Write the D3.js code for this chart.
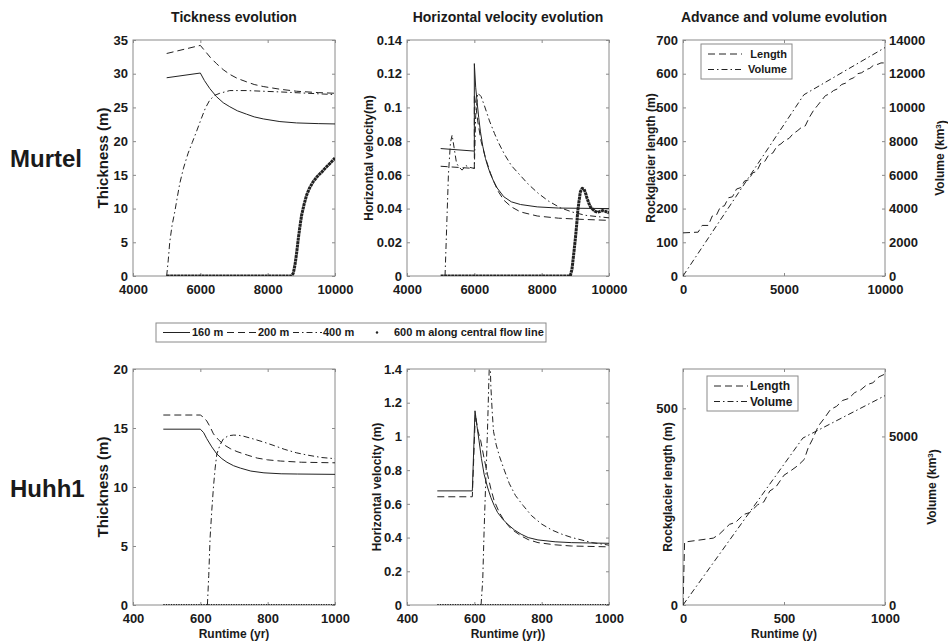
<!DOCTYPE html>
<html>
<head>
<meta charset="utf-8">
<script src="https://cdn.jsdelivr.net/npm/d3@7"></script>
<style>
  body { margin: 0; background: #fff; }
  svg text { font-family: "Liberation Sans", Arial, Helvetica, sans-serif; font-weight: bold; }
</style>
</head>
<body>
<script>
// ---------- Murtel: thickness at points along the central flow line [year, m] ----------
const murtelThick160 = [[5000,29.4],[6000,30.1],[6120,29.0],[6281,27.8],[6479,26.6],[6680,25.7],[6876,25.1],[7100,24.5],[7372,24.0],[7600,23.6],[7868,23.3],[8364,22.9],[8860,22.7],[9500,22.6],[10000,22.55]];
const murtelThick200 = [[5000,33.0],[6000,34.2],[6150,33.3],[6300,32.4],[6479,31.5],[6680,30.6],[6876,29.9],[7100,29.3],[7372,28.8],[7600,28.4],[7868,28.1],[8364,27.7],[8860,27.4],[9500,27.2],[10000,27.1]];
const murtelThick400 = [[5000,0],[5050,2.5],[5091,5.0],[5160,7.5],[5240,9.5],[5320,11.8],[5388,13.7],[5500,16.0],[5636,18.2],[5760,19.8],[5884,21.4],[6033,23.4],[6150,24.9],[6281,26.1],[6430,26.8],[6578,27.1],[6876,27.5],[7370,27.5],[8364,27.3],[9200,27.1],[10000,26.9]];
const murtelThick600 = [[5000,0],[8700,0],[8760,0.4],[8810,1.6],[8860,3.4],[8909,5.5],[8960,7.4],[9008,9.0],[9080,10.6],[9157,12.0],[9250,13.1],[9355,14.0],[9480,14.8],[9603,15.4],[9730,16.1],[9851,16.7],[10000,17.5]];

// ---------- Murtel: horizontal velocity [year, m] ----------
const murtelVel160 = [[5000,0.0756],[6000,0.0741],[6000,0.126],[6040,0.112],[6083,0.103],[6130,0.094],[6182,0.0855],[6250,0.077],[6331,0.0697],[6400,0.065],[6479,0.0605],[6578,0.0560],[6678,0.0522],[6876,0.0470],[7100,0.0440],[7372,0.0424],[7868,0.0410],[8500,0.0403],[10000,0.0400]];
const murtelVel200 = [[5000,0.0651],[6000,0.0638],[6000,0.108],[6050,0.100],[6100,0.092],[6200,0.080],[6331,0.0700],[6479,0.0610],[6600,0.0550],[6700,0.0505],[6876,0.0450],[7100,0.0410],[7372,0.0380],[7868,0.0356],[8500,0.0343],[9200,0.0336],[10000,0.0330]];
const murtelVel400 = [[5130,0],[5180,0.03],[5230,0.06],[5290,0.079],[5340,0.0836],[5400,0.076],[5470,0.067],[5537,0.0648],[5636,0.0628],[5750,0.0655],[5850,0.0645],[6000,0.0638],[6040,0.095],[6100,0.1085],[6200,0.1065],[6300,0.101],[6450,0.092],[6600,0.0845],[6720,0.079],[6900,0.072],[7100,0.0655],[7350,0.060],[7600,0.0545],[7900,0.049],[8200,0.0445],[8550,0.0405],[8900,0.038],[9300,0.036],[10000,0.0345]];
const murtelVel600 = [[5000,0],[8850,0],[8900,0.004],[8959,0.0143],[9000,0.022],[9038,0.030],[9070,0.038],[9107,0.044],[9150,0.050],[9206,0.052],[9260,0.0515],[9306,0.049],[9350,0.046],[9405,0.043],[9450,0.041],[9504,0.0398],[9580,0.0385],[9653,0.0378],[9720,0.0382],[9802,0.0388],[9880,0.0385],[9950,0.0378],[10000,0.0375]];

// ---------- Murtel: front advance [year, m] and volume [year, km3] ----------
const murtelLength = [[0,128],[750,130],[950,150],[1250,150],[1450,178],[1650,180],[1850,205],[2050,208],[2250,232],[2450,235],[2650,258],[2850,262],[3050,282],[3250,285],[3450,306],[3650,310],[3850,335],[4050,340],[4250,360],[4450,365],[4650,385],[4850,392],[5050,403],[5250,408],[5450,422],[5650,430],[5850,440],[6050,445],[6250,470],[6450,490],[6650,505],[6850,520],[7050,535],[7250,540],[7450,550],[7650,555],[7850,568],[8050,572],[8250,583],[8450,588],[8650,600],[8850,603],[9050,612],[9250,616],[9450,626],[9650,628],[9800,632],[10000,632]];
const murtelVolume = [[0,0],[5983,10750],[10000,13550]];

// ---------- Huhh1: thickness [year, m] ----------
const huhhThick160 = [[490,14.9],[600,14.9],[610,14.6],[619,14.1],[634,13.4],[649,12.8],[664,12.4],[679,12.1],[699,11.8],[719,11.6],[750,11.35],[789,11.2],[840,11.12],[888,11.1],[1000,11.07]];
const huhhThick200 = [[490,16.1],[600,16.1],[610,15.9],[619,15.6],[629,15.1],[639,14.5],[654,14.0],[669,13.6],[689,13.25],[709,13.0],[740,12.7],[769,12.45],[800,12.3],[838,12.2],[900,12.1],[1000,12.05]];
const huhhThick400 = [[621,0],[625,2.5],[629,5.7],[634,8.0],[639,10.0],[644,11.6],[649,12.8],[659,13.6],[669,14.1],[684,14.35],[699,14.4],[714,14.38],[729,14.3],[760,14.05],[789,13.8],[820,13.5],[849,13.2],[885,12.9],[919,12.7],[960,12.5],[1000,12.4]];
const huhhThick600 = [[490,0],[1000,0]];

// ---------- Huhh1: horizontal velocity [year, m] ----------
const huhhVel160 = [[490,0.677],[594,0.677],[602,1.152],[608,1.06],[614,0.974],[621,0.87],[629,0.776],[639,0.70],[649,0.638],[659,0.59],[669,0.549],[684,0.51],[699,0.479],[719,0.445],[739,0.420],[760,0.40],[789,0.386],[840,0.375],[888,0.370],[1000,0.366]];
const huhhVel200 = [[490,0.642],[594,0.642],[603,1.13],[611,1.03],[619,0.974],[629,0.87],[639,0.776],[649,0.69],[659,0.618],[674,0.55],[689,0.499],[710,0.45],[739,0.41],[760,0.388],[789,0.370],[840,0.357],[888,0.350],[1000,0.345]];
const huhhVel400 = [[620,0],[625,0.15],[629,0.44],[634,0.74],[639,1.03],[643,1.32],[646,1.52],[649,1.3],[653,1.15],[657,1.03],[665,0.95],[675,0.88],[689,0.8],[704,0.72],[722,0.65],[745,0.59],[770,0.53],[800,0.48],[830,0.445],[860,0.42],[890,0.40],[920,0.385],[950,0.37],[1000,0.355]];
const huhhVel600 = [[490,0],[1000,0]];

// ---------- Huhh1: front advance [year, m] and volume [year, km3] ----------
const huhhLength = [[0,0],[8,160],[150,170],[180,180],[230,205],[260,210],[300,230],[330,235],[370,255],[400,262],[430,290],[460,300],[500,330],[530,340],[570,355],[600,370],[620,400],[640,420],[670,455],[700,475],[730,497],[760,505],[790,520],[820,525],[850,540],[880,547],[910,560],[940,565],[970,580],[995,586]];
const huhhVolume = [[0,0],[593,4950],[1000,6210]];

// ---------- tick values ----------
const murtelTimeTicks = [4000, 6000, 8000, 10000];
const murtelThickTicks = [0, 5, 10, 15, 20, 25, 30, 35];
const murtelVelTicks = [0, 0.02, 0.04, 0.06, 0.08, 0.1, 0.12, 0.14];
const murtelRunTicks = [0, 5000, 10000];
const murtelLenTicks = [0, 100, 200, 300, 400, 500, 600, 700];
const murtelVolTicks = [0, 2000, 4000, 6000, 8000, 10000, 12000, 14000];
const huhhTimeTicks = [400, 600, 800, 1000];
const huhhThickTicks = [0, 5, 10, 15, 20];
const huhhVelTicks = [0, 0.2, 0.4, 0.6, 0.8, 1, 1.2, 1.4];
const huhhRunTicks = [0, 500, 1000];
const huhhLenTicks = [0, 500];
const huhhVolTicks = [0, 5000];

// legend entries shared by the thickness and velocity panels
const seriesNames = ["160 m", "200 m", "400 m", "600 m along central flow line"];

// ---------- drawing ----------
const svg = d3.select("body").append("svg").attr("width", 948).attr("height", 641);

const BOX = "#8a8a8a", INK = "#1a1a1a", LINE = "#222";
const TICK_LEN = 3;
const COLS = [133, 407, 683], ROWS = [40, 369], PW = 202, PH = 236;

const dashes = { solid: null, dashed: "7,4", dashdot: "6,3,1.5,3" };
const fmt = v => String(+v.toFixed(4));

function styleAxis(sel, size) {
  sel.select(".domain").remove();
  sel.selectAll(".tick line").attr("stroke", BOX);
  sel.selectAll(".tick text").attr("fill", INK)
    .style("font-size", size + "px").style("font-weight", "bold")
    .style("font-family", '"Liberation Sans", Arial, sans-serif');
}

function panel(o) {
  const g = svg.append("g").attr("transform", `translate(${o.left},${o.top})`);
  const x = d3.scaleLinear().domain(o.xDomain).range([0, PW]);
  const y = d3.scaleLinear().domain(o.yDomain).range([PH, 0]);
  const y2 = o.y2Domain ? d3.scaleLinear().domain(o.y2Domain).range([PH, 0]) : null;

  g.append("clipPath").attr("id", "clip-" + o.id)
    .append("rect").attr("width", PW).attr("height", PH);

  g.append("g").attr("transform", `translate(0,${PH})`)
    .call(d3.axisBottom(x).tickValues(o.xTicks).tickFormat(fmt).tickSize(-TICK_LEN).tickPadding(9))
    .call(s => styleAxis(s, 13));
  g.append("g")
    .call(d3.axisTop(x).tickValues(o.xTicks).tickFormat("").tickSize(-TICK_LEN))
    .call(s => styleAxis(s, 13));
  g.append("g")
    .call(d3.axisLeft(y).tickValues(o.yTicks).tickFormat(fmt).tickSize(-TICK_LEN).tickPadding(5))
    .call(s => styleAxis(s, 13));
  if (y2) {
    g.append("g").attr("transform", `translate(${PW},0)`)
      .call(d3.axisRight(y2).tickValues(o.y2Ticks).tickFormat(fmt).tickSize(-TICK_LEN).tickPadding(4))
      .call(s => styleAxis(s, 13));
  } else {
    g.append("g").attr("transform", `translate(${PW},0)`)
      .call(d3.axisRight(y).tickValues(o.yTicks).tickFormat("").tickSize(-TICK_LEN))
      .call(s => styleAxis(s, 13));
  }

  g.append("rect").attr("width", PW).attr("height", PH)
    .attr("fill", "none").attr("stroke", BOX).attr("stroke-width", 1);

  const plot = g.append("g").attr("clip-path", `url(#clip-${o.id})`);

  if (o.title) {
    g.append("text").attr("x", PW / 2).attr("y", -18).attr("text-anchor", "middle")
      .attr("fill", INK).style("font-size", "14px").text(o.title);
  }
  if (o.yLabel) {
    g.append("text").attr("transform", `translate(${o.yLabelX},${PH / 2}) rotate(-90)`)
      .attr("text-anchor", "middle").attr("dy", "0.35em").attr("fill", INK)
      .style("font-size", o.yLabelSize + "px").text(o.yLabel);
  }
  if (o.xLabel) {
    g.append("text").attr("x", PW / 2).attr("y", PH + 33).attr("text-anchor", "middle")
      .attr("fill", INK).style("font-size", "12px").text(o.xLabel);
  }
  return { g, x, y, y2, plot };
}

function drawLine(p, data, style, scaleY) {
  const ys = scaleY || p.y;
  const line = d3.line().x(d => p.x(d[0])).y(d => ys(d[1]));
  const path = p.plot.append("path").datum(data).attr("d", line)
    .attr("fill", "none").attr("stroke", LINE)
    .attr("stroke-width", style.width || 1).attr("stroke-linejoin", "round");
  if (style.dash) path.attr("stroke-dasharray", style.dash);
  return path;
}

const thickDots = { width: 3, dash: "3,0.5" };
const fineDots = { width: 2, dash: "1.4,1.1" };

// Murtel thickness
const p1 = panel({ id: "mt", left: COLS[0], top: ROWS[0], xDomain: [4000, 10000], yDomain: [0, 35],
  xTicks: murtelTimeTicks, yTicks: murtelThickTicks, title: "Tickness evolution",
  yLabel: "Thickness (m)", yLabelX: -30, yLabelSize: 15 });
drawLine(p1, murtelThick160, { dash: dashes.solid });
drawLine(p1, murtelThick200, { dash: dashes.dashed });
drawLine(p1, murtelThick400, { dash: dashes.dashdot });
drawLine(p1, murtelThick600, thickDots);

// Murtel velocity
const p2 = panel({ id: "mv", left: COLS[1], top: ROWS[0], xDomain: [4000, 10000], yDomain: [0, 0.14],
  xTicks: murtelTimeTicks, yTicks: murtelVelTicks, title: "Horizontal velocity evolution",
  yLabel: "Horizontal velocity(m)", yLabelX: -38, yLabelSize: 12 });
drawLine(p2, murtelVel160, { dash: dashes.solid });
drawLine(p2, murtelVel200, { dash: dashes.dashed });
drawLine(p2, murtelVel400, { dash: dashes.dashdot });
drawLine(p2, murtelVel600, thickDots);

// Murtel advance & volume
const p3 = panel({ id: "ma", left: COLS[2], top: ROWS[0], xDomain: [0, 10000], yDomain: [0, 700],
  y2Domain: [0, 14000], xTicks: murtelRunTicks, yTicks: murtelLenTicks, y2Ticks: murtelVolTicks,
  title: "Advance and volume evolution", yLabel: "Rockglacier length (m)", yLabelX: -32, yLabelSize: 12 });
drawLine(p3, murtelLength, { dash: dashes.dashed });
drawLine(p3, murtelVolume, { dash: dashes.dashdot }, p3.y2);

// Huhh1 thickness
const p4 = panel({ id: "ht", left: COLS[0], top: ROWS[1], xDomain: [400, 1000], yDomain: [0, 20],
  xTicks: huhhTimeTicks, yTicks: huhhThickTicks, yLabel: "Thickness (m)", yLabelX: -30, yLabelSize: 15,
  xLabel: "Runtime (yr)" });
drawLine(p4, huhhThick160, { dash: dashes.solid });
drawLine(p4, huhhThick200, { dash: dashes.dashed });
drawLine(p4, huhhThick400, { dash: dashes.dashdot });
drawLine(p4, huhhThick600, fineDots);

// Huhh1 velocity
const p5 = panel({ id: "hv", left: COLS[1], top: ROWS[1], xDomain: [400, 1000], yDomain: [0, 1.4],
  xTicks: huhhTimeTicks, yTicks: huhhVelTicks, yLabel: "Horizontal velocity (m)", yLabelX: -30, yLabelSize: 12,
  xLabel: "Runtime (yr))" });
drawLine(p5, huhhVel160, { dash: dashes.solid });
drawLine(p5, huhhVel200, { dash: dashes.dashed });
drawLine(p5, huhhVel400, { dash: dashes.dashdot });
drawLine(p5, huhhVel600, fineDots);

// Huhh1 advance & volume
const p6 = panel({ id: "ha", left: COLS[2], top: ROWS[1], xDomain: [0, 1000], yDomain: [0, 600],
  y2Domain: [0, 7000], xTicks: huhhRunTicks, yTicks: huhhLenTicks, y2Ticks: huhhVolTicks,
  yLabel: "Rockglacier length (m)", yLabelX: -15, yLabelSize: 12, xLabel: "Runtime (y)" });
drawLine(p6, huhhLength, { dash: dashes.dashed });
drawLine(p6, huhhVolume, { dash: dashes.dashdot }, p6.y2);

// right-hand volume axis titles
function volumeLabel(p, cx) {
  const t = p.g.append("text").attr("transform", `translate(${cx},${PH / 2}) rotate(-90)`)
    .attr("text-anchor", "middle").attr("dy", "0.35em").attr("fill", INK).style("font-size", "12px");
  t.append("tspan").text("Volume (km");
  t.append("tspan").attr("dy", "-0.45em").style("font-size", "8px").text("3");
  t.append("tspan").attr("dy", "0.45em").text(")");
}
volumeLabel(p3, PW + 55);
volumeLabel(p6, PW + 47);

// row titles
svg.append("text").attr("x", 10).attr("y", 167).attr("fill", INK).style("font-size", "24px").text("Murtel");
svg.append("text").attr("x", 10).attr("y", 497).attr("fill", INK).style("font-size", "24px").text("Huhh1");

// in-axes legends for the advance panels
function advanceLegend(p, bx, by, anchorEnd) {
  const lg = p.g.append("g").attr("transform", `translate(${bx},${by})`);
  lg.append("rect").attr("width", 91).attr("height", 35).attr("fill", "#fff").attr("stroke", BOX);
  const items = [["Length", dashes.dashed], ["Volume", dashes.dashdot]];
  items.forEach((it, i) => {
    const yy = 10 + i * 15.5;
    lg.append("line").attr("x1", 7).attr("x2", 41).attr("y1", yy).attr("y2", yy)
      .attr("stroke", LINE).attr("stroke-dasharray", it[1]);
    lg.append("text").attr("x", anchorEnd ? 86 : 43).attr("y", yy).attr("dy", "0.35em")
      .attr("text-anchor", anchorEnd ? "end" : "start").attr("fill", INK)
      .style("font-size", anchorEnd ? "11px" : "12px").text(it[0]);
  });
}
advanceLegend(p3, 18, 4, true);
advanceLegend(p6, 24, 7, false);

// shared series legend between the two rows
const lg = svg.append("g").attr("transform", "translate(156,323)");
lg.append("rect").attr("width", 390).attr("height", 19).attr("fill", "#fff").attr("stroke", BOX);
const legendLayout = [
  { x1: 7, x2: 34, tx: 36, style: dashes.solid },
  { x1: 71, x2: 101, tx: 102, style: dashes.dashed },
  { x1: 137, x2: 166, tx: 167, style: dashes.dashdot },
  { dot: 221, tx: 238 }
];
seriesNames.forEach((name, i) => {
  const L = legendLayout[i];
  if (L.dot !== undefined) {
    lg.append("circle").attr("cx", L.dot).attr("cy", 9.5).attr("r", 1.2).attr("fill", LINE);
  } else {
    const ln = lg.append("line").attr("x1", L.x1).attr("x2", L.x2).attr("y1", 9.5).attr("y2", 9.5)
      .attr("stroke", LINE);
    if (L.style) ln.attr("stroke-dasharray", L.style);
  }
  lg.append("text").attr("x", L.tx).attr("y", 9.5).attr("dy", "0.35em").attr("fill", INK)
    .style("font-size", "11px").text(name);
});
</script>
</body>
</html>
